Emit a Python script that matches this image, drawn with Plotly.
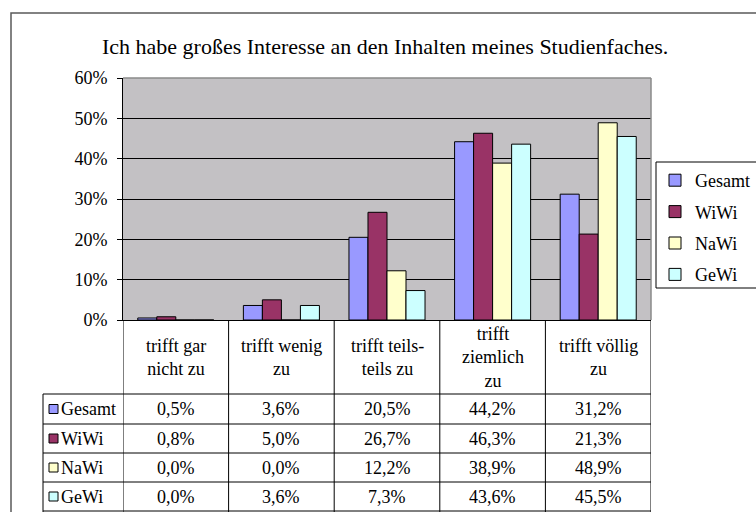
import plotly.graph_objects as go

# ---------------- data ----------------
categories = ["trifft gar nicht zu", "trifft wenig zu", "trifft teils-teils zu",
              "trifft ziemlich zu", "trifft völlig zu"]
header_labels = ["trifft gar<br>nicht zu", "trifft wenig<br>zu", "trifft teils-<br>teils zu",
                 "trifft<br>ziemlich<br>zu", "trifft völlig<br>zu"]
series_names = ["Gesamt", "WiWi", "NaWi", "GeWi"]
gesamt = [0.5, 3.6, 20.5, 44.2, 31.2]
wiwi = [0.8, 5.0, 26.7, 46.3, 21.3]
nawi = [0.0, 0.0, 12.2, 38.9, 48.9]
gewi = [0.0, 3.6, 7.3, 43.6, 45.5]
y_ticks = [0, 10, 20, 30, 40, 50, 60]
y_tick_labels = ["0%", "10%", "20%", "30%", "40%", "50%", "60%"]
title_text = "Ich habe großes Interesse an den Inhalten meines Studienfaches."

# ---------------- style ----------------
W, H = 756, 512
FONT = "Liberation Serif"
colors = ["#9999FF", "#993366", "#FFFFCC", "#CCFFFF"]
series_values = [gesamt, wiwi, nawi, gewi]


def px(x):
    return x / W


def py(y):
    return 1 - y / H


PLOT_L, PLOT_R, PLOT_T, PLOT_B = 123, 651, 78, 320
ROW_LINES = [394, 424, 453, 482, 511]
TABLE_L = 43

fig = go.Figure()
for name, vals, col in zip(series_names, series_values, colors):
    fig.add_trace(go.Bar(
        x=categories, y=vals, name=name, legendgroup=name,
        marker=dict(color=col, line=dict(color="#000000", width=1)),
        hoverinfo="skip",
    ))

shapes = []
annotations = []

# outer chart border
shapes.append(dict(type="rect", xref="paper", yref="paper",
                   x0=px(11), x1=px(800), y0=py(600), y1=py(13),
                   line=dict(color="#5a5a5a", width=1.5), layer="below"))
# plot area top/right border (gray)
shapes.append(dict(type="line", xref="paper", yref="paper",
                   x0=px(PLOT_L), x1=px(PLOT_R), y0=py(PLOT_T), y1=py(PLOT_T),
                   line=dict(color="#8a8a8a", width=1.5), layer="above"))
shapes.append(dict(type="line", xref="paper", yref="paper",
                   x0=px(PLOT_R), x1=px(PLOT_R), y0=py(PLOT_B), y1=py(PLOT_T),
                   line=dict(color="#8a8a8a", width=1.5), layer="above"))

# table vertical lines at category boundaries
for i in range(len(categories) + 1):
    shapes.append(dict(type="line", xref="x", yref="paper",
                       x0=i - 0.5, x1=i - 0.5, y0=py(513), y1=py(PLOT_B),
                       line=dict(color="#000000", width=1)))
# table left edge
shapes.append(dict(type="line", xref="paper", yref="paper",
                   x0=px(TABLE_L), x1=px(TABLE_L), y0=py(513), y1=py(ROW_LINES[0]),
                   line=dict(color="#000000", width=1)))
# table horizontal lines
for r in ROW_LINES:
    shapes.append(dict(type="line", xref="paper", yref="paper",
                       x0=px(TABLE_L), x1=px(PLOT_R), y0=py(r), y1=py(r),
                       line=dict(color="#000000", width=1)))

# header texts
for cat, lab in zip(categories, header_labels):
    annotations.append(dict(x=cat, xref="x", y=py(357), yref="paper",
                            text=lab, showarrow=False, yanchor="middle",
                            font=dict(family=FONT, size=18, color="#000000")))

# table rows
for r, (name, vals, col) in enumerate(zip(series_names, series_values, colors)):
    yc = (ROW_LINES[r] + ROW_LINES[r + 1]) / 2
    shapes.append(dict(type="rect", xref="paper", yref="paper",
                       x0=px(49), x1=px(58), y0=py(yc + 4.5), y1=py(yc - 4.5),
                       fillcolor=col, line=dict(color="#000000", width=1)))
    annotations.append(dict(x=px(59), xref="paper", y=py(yc), yref="paper",
                            text=name, showarrow=False, xanchor="left", yanchor="middle",
                            font=dict(family=FONT, size=18, color="#000000")))
    for cat, v in zip(categories, vals):
        annotations.append(dict(x=cat, xref="x", y=py(yc), yref="paper",
                                text=f"{v:.1f}".replace(".", ",") + "%",
                                showarrow=False, yanchor="middle",
                                font=dict(family=FONT, size=18, color="#000000")))

# title
annotations.append(dict(x=px(385), xref="paper", y=py(46), yref="paper",
                        text=title_text, showarrow=False, yanchor="middle",
                        font=dict(family=FONT, size=22, color="#000000")))

# legend frame
shapes.append(dict(type="rect", xref="paper", yref="paper",
                   x0=px(656), x1=px(790), y0=py(288), y1=py(162),
                   line=dict(color="#000000", width=1), fillcolor="#FFFFFF", layer="below"))

fig.update_layout(
    width=W, height=H,
    margin=dict(l=0, r=0, t=0, b=0, autoexpand=False),
    paper_bgcolor="#FFFFFF",
    plot_bgcolor="#C3C1C4",
    barmode="group", bargap=0.28, bargroupgap=0,
    showlegend=True,
    legend=dict(x=px(655), y=py(162), xanchor="left", yanchor="top",
                bgcolor="rgba(0,0,0,0)", borderwidth=0,
                tracegroupgap=5, itemwidth=30,
                font=dict(family=FONT, size=18, color="#000000")),
    xaxis=dict(domain=[px(PLOT_L), px(PLOT_R)], range=[-0.5, 4.5],
               showticklabels=False, ticks="", showgrid=False, automargin=False,
               showline=True, linecolor="#000000", linewidth=1, zeroline=False,
               fixedrange=True),
    yaxis=dict(domain=[py(PLOT_B), py(PLOT_T)], range=[0, 60], automargin=False,
               tickmode="array", tickvals=y_ticks, ticktext=y_tick_labels,
               ticks="outside", ticklen=5, ticklabelstandoff=6,
               tickcolor="#000000", showgrid=True, gridcolor="#000000", gridwidth=1,
               showline=True, linecolor="#000000", linewidth=1, zeroline=False,
               tickfont=dict(family=FONT, size=18, color="#000000"),
               fixedrange=True),
    shapes=shapes,
    annotations=annotations,
)

fig.write_html("out.html", config={"displayModeBar": False},
               post_script="document.body.style.margin='0';document.body.style.overflow='hidden';")
